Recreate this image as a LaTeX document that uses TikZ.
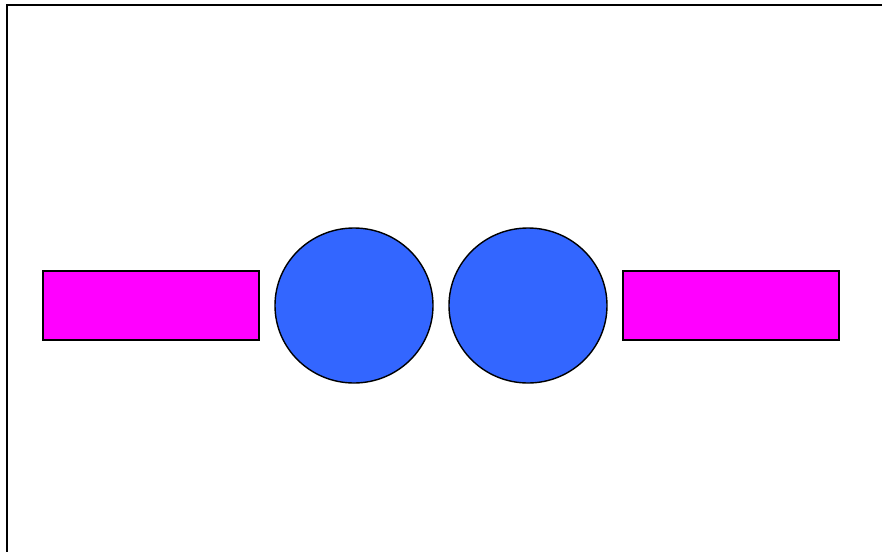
\documentclass[tikz,border=0pt]{standalone}
\usepackage{tikz}
\usetikzlibrary{shapes.geometric,positioning}
\definecolor{barmagenta}{RGB}{255,0,255}
\definecolor{ballblue}{RGB}{51,102,255}

\begin{document}
\begin{tikzpicture}[
        x=0.03cm, y=-0.03cm,
        bar/.style={rectangle, draw=black, fill=barmagenta, line width=1.2pt,
                    minimum width=6.48cm, minimum height=2.07cm,
                    inner sep=0pt, outer sep=0pt},
        ball/.style={ellipse, draw=black, fill=ballblue, line width=1.2pt,
                     minimum width=4.74cm, minimum height=4.65cm,
                     inner sep=0pt, outer sep=0pt},
        frame/.style={line width=1.7pt, black}
    ]
        \useasboundingbox (0,0) rectangle (882,552);

        % frame (only top and left edges visible)
        \coordinate (fbl) at (7,560);
        \coordinate (ftl) at (7,5);
        \coordinate (ftr) at (890,5);
        \draw[frame] (fbl) -- (ftl) -- (ftr);

        \node[bar]  (lbar)  at (151,305.5) {};
        \node[ball] (lball) at (354,305.5) {};
        \node[ball] (rball) at (528,305.5) {};
        \node[bar]  (rbar)  at (731,305.5) {};
    \end{tikzpicture}
\end{document}
